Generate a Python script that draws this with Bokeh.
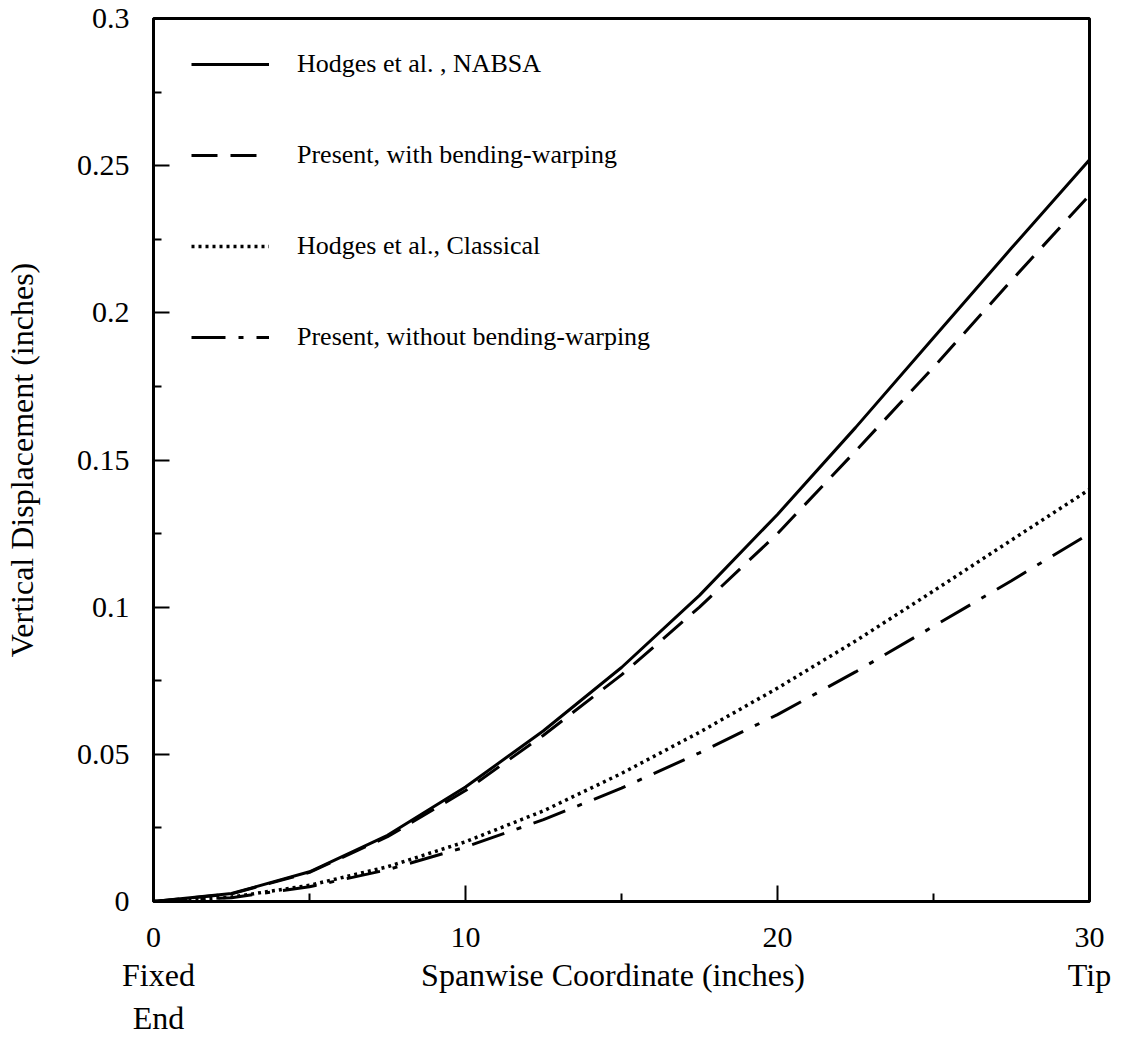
from bokeh.plotting import figure
from bokeh.models import (Range1d, FixedTicker, NumeralTickFormatter, Legend,
                          LegendItem, LinearAxis)
from bokeh.embed import file_html
from bokeh.resources import INLINE

# ---- data ----
span = [0, 2.5, 5, 7.5, 10, 12.5, 15, 17.5, 20, 22.5, 25, 27.5, 30]
nabsa = [0, 0.0027, 0.0101, 0.0225, 0.0389, 0.0580, 0.0795, 0.1040, 0.1315, 0.1610, 0.1915, 0.2220, 0.2520]
with_bw = [0, 0.0026, 0.0099, 0.0220, 0.0377, 0.0565, 0.0770, 0.1000, 0.1250, 0.1530, 0.1815, 0.2110, 0.2400]
classical = [0, 0.0015, 0.0055, 0.0118, 0.0203, 0.0308, 0.0435, 0.0575, 0.0725, 0.0885, 0.1055, 0.1228, 0.1400]
without_bw = [0, 0.0013, 0.0050, 0.0108, 0.0185, 0.0278, 0.0385, 0.0505, 0.0635, 0.0780, 0.0935, 0.1090, 0.1250]

x_major = [0, 10, 20, 30]
x_minor = [5, 15, 25]
y_major = [0, 0.05, 0.1, 0.15, 0.2, 0.25, 0.3]
y_minor = [0.025, 0.075, 0.125, 0.175, 0.225, 0.275]

labels = ["Hodges et al. , NABSA", "Present, with bending-warping",
          "Hodges et al., Classical", "Present, without bending-warping"]
x_title = "Spanwise Coordinate (inches)"
y_title = "Vertical Displacement (inches)"
end_labels = {0.16: "Fixed\nEnd", 14.73: x_title, 30: "Tip"}

FONT = "Liberation Serif"

p = figure(width=1130, height=1038, output_backend="svg", toolbar_location=None,
           x_range=Range1d(0, 30), y_range=Range1d(0, 0.3),
           min_border_left=152, min_border_right=41, min_border_top=18,
           min_border_bottom=136)
p.background_fill_color = "white"
p.border_fill_color = "white"
p.outline_line_color = "black"
p.outline_line_width = 3
p.xgrid.visible = False
p.ygrid.visible = False

for ax in (p.xaxis[0], p.yaxis[0]):
    ax.axis_line_width = 3
    ax.axis_line_color = "black"
    ax.major_tick_in = 16
    ax.major_tick_out = 0
    ax.minor_tick_in = 8
    ax.minor_tick_out = 0
    ax.major_tick_line_width = 2
    ax.minor_tick_line_width = 2
    ax.major_label_text_font = FONT
    ax.major_label_text_font_size = "30px"
    ax.major_label_text_color = "black"

p.xaxis[0].ticker = FixedTicker(ticks=x_major, minor_ticks=x_minor)
p.yaxis[0].ticker = FixedTicker(ticks=y_major, minor_ticks=y_minor)
p.xaxis[0].major_label_standoff = 26
p.yaxis[0].major_label_standoff = 24
p.yaxis[0].formatter = NumeralTickFormatter(format="0.[00]")
p.xaxis[0].formatter = NumeralTickFormatter(format="0")

p.yaxis[0].axis_label = y_title
p.yaxis[0].axis_label_text_font = FONT
p.yaxis[0].axis_label_text_font_size = "32px"
p.yaxis[0].axis_label_text_font_style = "normal"
p.yaxis[0].axis_label_text_color = "black"
p.yaxis[0].axis_label_standoff = 34

# second row of texts under the x axis: "Fixed End", axis title, "Tip"
ax2 = LinearAxis(ticker=FixedTicker(ticks=list(end_labels.keys()), minor_ticks=[]),
                 major_label_overrides=end_labels,
                 axis_line_alpha=0, major_tick_in=0, major_tick_out=0,
                 minor_tick_in=0, minor_tick_out=0, major_label_standoff=7,
                 major_label_text_font=FONT, major_label_text_font_size="32px",
                 major_label_text_color="black")
p.add_layout(ax2, "below")

r1 = p.line(span, nabsa, line_color="black", line_width=3)
r2 = p.line(span, with_bw, line_color="black", line_width=3, line_dash="26 13")
r3 = p.line(span, classical, line_color="black", line_width=3.5, line_dash="3 4")
r4 = p.line(span, without_bw, line_color="black", line_width=3, line_dash="34 13 5 13")

legend = Legend(items=[LegendItem(label=labels[i], renderers=[r])
                       for i, r in enumerate([r1, r2, r3, r4])],
                location=(38, 548), orientation="vertical",
                margin=0, padding=0, spacing=59,
                glyph_width=78, glyph_height=32, label_height=32,
                label_standoff=28, label_text_font=FONT,
                label_text_font_size="26px", label_text_color="black",
                border_line_alpha=0, background_fill_alpha=0)
p.add_layout(legend)

open("out.html", "w").write(file_html(p, INLINE))
